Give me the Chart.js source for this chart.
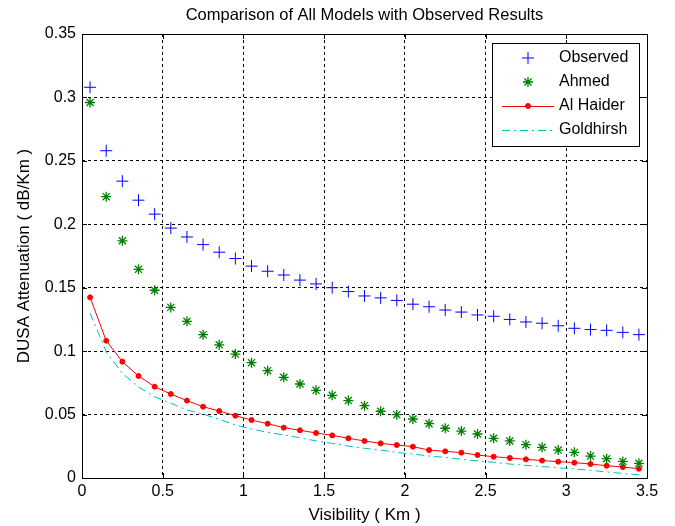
<!DOCTYPE html>
<html lang="en">
<head>
    <meta charset="UTF-8">
    <title>Comparison of All Models with Observed Results</title>
    <script src="https://cdn.jsdelivr.net/npm/chart.js@4.4.0/dist/chart.umd.min.js"></script>
    <style>
        body { margin: 0; background: #fff; }
    </style>
</head>
<body>
    <canvas id="myChart" width="675" height="526"></canvas>
<script>
    // visibility (Km)
    const visibility = [0.05, 0.15, 0.25, 0.35, 0.45, 0.55, 0.65, 0.75, 0.85, 0.95,
        1.05, 1.15, 1.25, 1.35, 1.45, 1.55, 1.65, 1.75, 1.85, 1.95,
        2.05, 2.15, 2.25, 2.35, 2.45, 2.55, 2.65, 2.75, 2.85, 2.95,
        3.05, 3.15, 3.25, 3.35, 3.45]

    // attenuation (dB/Km)
    const observed = [0.308, 0.258, 0.234, 0.219, 0.208, 0.197, 0.190, 0.184, 0.178, 0.173,
        0.167, 0.163, 0.160, 0.156, 0.153, 0.150, 0.147, 0.1435, 0.142, 0.140,
        0.137, 0.135, 0.1324, 0.1308, 0.1285, 0.1275, 0.125, 0.123, 0.122, 0.120,
        0.118, 0.117, 0.1164, 0.1148, 0.113]
    const ahmed = [0.296, 0.2218, 0.187, 0.1645, 0.148, 0.1345, 0.1235, 0.113, 0.105, 0.0977,
        0.0909, 0.0846, 0.0794, 0.0741, 0.0691, 0.0652, 0.061, 0.057, 0.0526, 0.0499,
        0.0465, 0.0428, 0.0392, 0.037, 0.0347, 0.0313, 0.0292, 0.0263, 0.0242, 0.022,
        0.0202, 0.0173, 0.0152, 0.0131, 0.0116]
    const alHaider = [0.1424, 0.1082, 0.0917, 0.0804, 0.072, 0.0662, 0.061, 0.0562, 0.0528, 0.0491,
        0.0457, 0.0428, 0.0397, 0.0376, 0.0355, 0.0336, 0.0313, 0.0292, 0.0273, 0.026,
        0.0247, 0.022, 0.021, 0.020, 0.0181, 0.0168, 0.0158, 0.0147, 0.0137, 0.0129,
        0.0121, 0.011, 0.0097, 0.0087, 0.0073]
    const goldhirsh = [0.130, 0.0996, 0.0825, 0.0717, 0.064, 0.0589, 0.0536, 0.0504, 0.0462, 0.0418,
        0.0386, 0.036, 0.0339, 0.0318, 0.0292, 0.0273, 0.0252, 0.0234, 0.022, 0.0202,
        0.0189, 0.0173, 0.0163, 0.0148, 0.0135, 0.0124, 0.011, 0.010, 0.009, 0.008,
        0.0072, 0.006, 0.0048, 0.0036, 0.0025]

    const xTicks = [0, 0.5, 1, 1.5, 2, 2.5, 3, 3.5]
    const yTicks = [0, 0.05, 0.1, 0.15, 0.2, 0.25, 0.3, 0.35]

    const FONT = '"Liberation Sans", Arial, sans-serif'

    function pts(ys) { return ys.map((y, i) => ({ x: visibility[i], y: y })) }
    function fmt(v) { return String(Number(v.toFixed(2))) }

    // matlab look: box, inward ticks, title and legend inside the axes
    const matlabBox = {
        id: 'matlabBox',
        afterDraw(chart) {
            const ctx = chart.ctx, a = chart.chartArea
            const xs = chart.scales.x, ys = chart.scales.y
            ctx.save()
            ctx.strokeStyle = '#000'
            ctx.lineWidth = 1
            ctx.setLineDash([])
            ctx.beginPath()
            xTicks.forEach(v => {
                const px = Math.round(xs.getPixelForValue(v)) + 0.5
                ctx.moveTo(px, a.bottom); ctx.lineTo(px, a.bottom - 5)
                ctx.moveTo(px, a.top); ctx.lineTo(px, a.top + 5)
            })
            yTicks.forEach(v => {
                const py = Math.round(ys.getPixelForValue(v)) + 0.5
                ctx.moveTo(a.left, py); ctx.lineTo(a.left + 5, py)
                ctx.moveTo(a.right, py); ctx.lineTo(a.right - 5, py)
            })
            ctx.stroke()
            ctx.strokeRect(Math.round(a.left) + 0.5, Math.round(a.top) + 0.5,
                Math.round(a.right - a.left), Math.round(a.bottom - a.top))

            // title
            ctx.fillStyle = '#000'
            ctx.font = '16.5px ' + FONT
            ctx.textAlign = 'center'
            ctx.textBaseline = 'middle'
            ctx.fillText('Comparison of All Models with Observed Results', (a.left + a.right) / 2, 15)

            // legend
            const bx = 492, by = 43, bw = 147, bh = 103
            ctx.fillStyle = '#fff'
            ctx.fillRect(bx, by, bw, bh)
            ctx.strokeRect(bx + 0.5, by + 0.5, bw, bh)
            const rows = [58, 82, 106, 130]
            chart.data.datasets.forEach((ds, i) => {
                const y = rows[i]
                ctx.strokeStyle = ds.borderColor
                ctx.lineWidth = 1
                if (ds.showLine) {
                    ctx.setLineDash(ds.borderDash || [])
                    ctx.beginPath(); ctx.moveTo(502, y + 0.5); ctx.lineTo(554, y + 0.5); ctx.stroke()
                    ctx.setLineDash([])
                }
                if (ds.pointRadius > 0) {
                    ctx.fillStyle = ds.pointBackgroundColor
                    ctx.lineWidth = ds.pointBorderWidth
                    Chart.helpers.drawPoint(ctx, {
                        pointStyle: ds.pointStyle, radius: ds.pointRadius, borderWidth: ds.pointBorderWidth
                    }, 528, y)
                }
                ctx.fillStyle = '#000'
                ctx.font = '16px ' + FONT
                ctx.textAlign = 'left'
                ctx.fillText(ds.label, 559, y)
            })
            ctx.restore()
        }
    }

    new Chart('myChart', {
        type: 'scatter',
        data: {
            datasets: [
                {
                    label: 'Observed', data: pts(observed), showLine: false,
                    pointStyle: 'cross', pointRadius: 6, pointBorderWidth: 1,
                    borderColor: '#0000ff', pointBackgroundColor: '#0000ff'
                },
                {
                    label: 'Ahmed', data: pts(ahmed), showLine: false,
                    pointStyle: 'star', pointRadius: 5, pointBorderWidth: 1.3,
                    borderColor: '#008000', pointBackgroundColor: '#008000'
                },
                {
                    label: 'Al Haider', data: pts(alHaider), showLine: true,
                    pointStyle: 'circle', pointRadius: 2.5, pointBorderWidth: 1,
                    borderColor: '#ff0000', backgroundColor: '#ff0000',
                    pointBackgroundColor: '#ff0000', borderWidth: 1
                },
                {
                    label: 'Goldhirsh', data: pts(goldhirsh), showLine: true,
                    pointRadius: 0, borderColor: '#00bfbf', backgroundColor: '#00bfbf',
                    borderWidth: 1, borderDash: [8, 4, 2, 4]
                }
            ]
        },
        options: {
            responsive: false,
            animation: false,
            layout: { padding: { left: 0, right: 28, top: 34, bottom: 0 } },
            plugins: { legend: { display: false }, title: { display: false }, tooltip: { enabled: false } },
            scales: {
                x: {
                    type: 'linear', min: 0, max: 3.5,
                    afterBuildTicks: s => { s.ticks = xTicks.map(v => ({ value: v })) },
                    afterFit: s => { s.height = 48 },
                    grid: { color: '#000', drawTicks: false, lineWidth: 1 },
                    border: { display: false, dash: [3, 3] },
                    ticks: { color: '#000', padding: 4, font: { family: FONT, size: 16 }, maxRotation: 0, callback: fmt },
                    title: { display: true, text: 'Visibility ( Km )', color: '#000', padding: { top: 0, bottom: 0 }, font: { family: FONT, size: 17 } }
                },
                y: {
                    min: 0, max: 0.35,
                    afterBuildTicks: s => { s.ticks = yTicks.map(v => ({ value: v })) },
                    afterFit: s => { s.width = 82 },
                    grid: { color: '#000', drawTicks: false, lineWidth: 1 },
                    border: { display: false, dash: [3, 3] },
                    ticks: { color: '#000', padding: 6, font: { family: FONT, size: 16 }, callback: fmt },
                    title: { display: true, text: 'DUSA Attenuation ( dB/Km )', color: '#000', padding: { top: 14, bottom: 0 }, font: { family: FONT, size: 17 } }
                }
            }
        },
        plugins: [matlabBox]
    })
</script>
</body>
</html>
